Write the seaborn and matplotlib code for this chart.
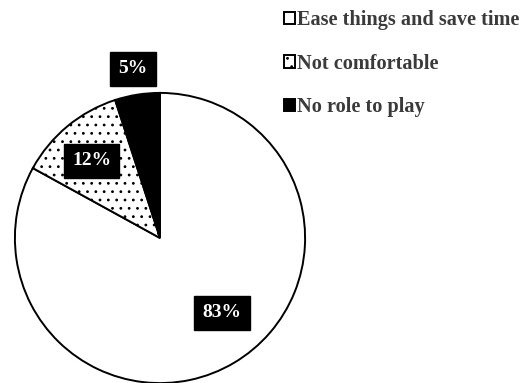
import numpy as np
import matplotlib
matplotlib.use("Agg")
import matplotlib.pyplot as plt
import seaborn as sns

categories = ["Ease things and save time", "Not comfortable", "No role to play"]
values = [83, 12, 5]

sns.set_theme(style="white")
plt.rcParams['font.family'] = ['Liberation Serif', 'DejaVu Serif']
plt.rcParams['hatch.linewidth'] = 0.8

colors = ["white", "white", "black"]
hatches = ["", "..", ""]
label_dist = [0.67, 0.71, 1.18]
angle_shift = [9, 2, 0]

fig = plt.figure(figsize=(5.24, 3.83), dpi=100)
ax = fig.add_axes([12/524, -3/383, 296/524, 296/383])

wedges, _ = ax.pie(values, colors=colors, startangle=90, counterclock=False,
                   radius=1.0,
                   wedgeprops=dict(edgecolor="black", linewidth=1.4))
for w, h in zip(wedges, hatches):
    if h:
        w.set_hatch(h)

for w, v, d, s in zip(wedges, values, label_dist, angle_shift):
    mid = np.deg2rad((w.theta1 + w.theta2) / 2 + s)
    ax.text(d * np.cos(mid), d * np.sin(mid), f"{v}%", ha="center", va="center",
            color="white", fontsize=14, fontweight="bold",
            bbox=dict(facecolor="black", edgecolor="black", boxstyle="square,pad=0.42"))

ax.set_xlim(-1.02, 1.02)
ax.set_ylim(-1.02, 1.02)
ax.set_aspect("equal")
ax.axis("off")

leg = fig.legend(wedges, categories, loc="upper left", bbox_to_anchor=(266/524, 1 + 8/383),
                 frameon=False, handlelength=0.55, handleheight=0.55, handletextpad=0.08,
                 labelspacing=1.15, prop=dict(family="Liberation Serif", weight="bold", size=14.6))
for t in leg.get_texts():
    t.set_color("#3a3a3a")

fig.savefig("out.png", dpi=100, facecolor="white")
